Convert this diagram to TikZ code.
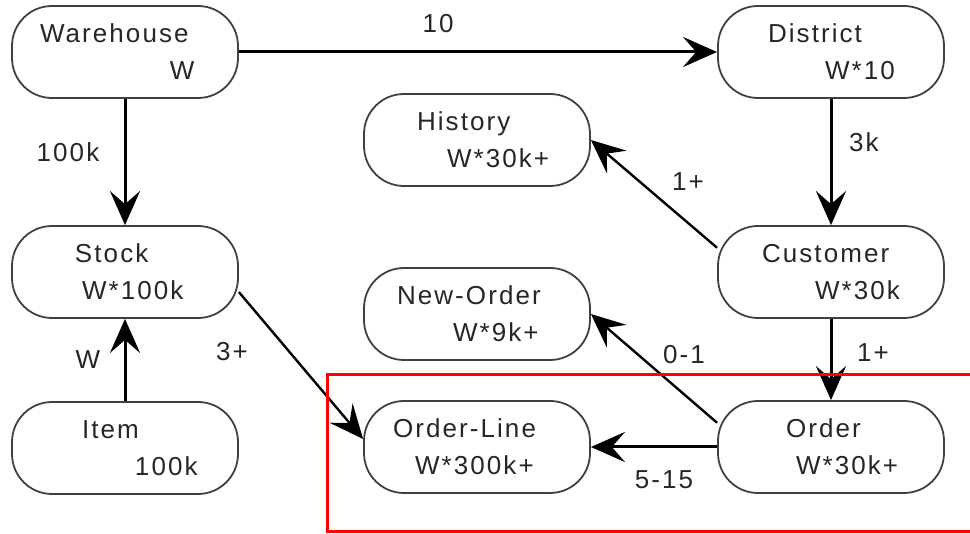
\documentclass[tikz,border=0pt]{standalone}
\usepackage{fontspec}
\setmainfont{Liberation Sans}[LetterSpace=8]
\usetikzlibrary{arrows.meta,positioning}

\begin{document}
\begin{tikzpicture}[
  x=1pt, y=-1pt,
  font=\fontsize{26}{37}\selectfont,
  entity/.style={draw=black!75, line width=1.8pt, rectangle, rounded corners=40pt, minimum height=92pt, minimum width=226pt, text width=200pt, inner xsep=0pt, align=left, text=black!85},
  rel/.style={-{Stealth[length=34pt,width=30pt,inset=13pt]}, line width=3pt},
  card/.style={text=black!85, inner sep=0pt}
]
  \useasboundingbox (0,0) rectangle (970,534);

  \node[entity] (warehouse) at (125,52) {\hspace*{15pt}Warehouse\\\hspace*{145pt}W};
  \node[entity] (district) at (831,52) {\hspace*{37pt}District\\\hspace*{94pt}W*10};
  \node[entity] (history) at (477,140) {\hspace*{40pt}History\\\hspace*{70pt}W*30k+};
  \node[entity] (stock) at (125,272) {\hspace*{50pt}Stock\\\hspace*{57pt}W*100k};
  \node[entity] (customer) at (831,272) {\hspace*{31pt}Customer\\\hspace*{84pt}W*30k};
  \node[entity] (neworder) at (477,314) {\hspace*{20pt}New-Order\\\hspace*{76pt}W*9k+};
  \node[entity] (item) at (125,448) {\hspace*{57pt}Item\\\hspace*{110pt}100k};
  \node[entity] (orderline) at (477,447) {\hspace*{16pt}Order-Line\\\hspace*{38pt}W*300k+};
  \node[entity] (order) at (831,447) {\hspace*{55pt}Order\\\hspace*{65pt}W*30k+};

  % cardinalities
  \node[card] (c10) at (438,24) {10};
  \node[card] (c100k) at (68,152) {100k};
  \node[card] (c3k) at (864,142) {3k};
  \node[card] (chist) at (688,182) {1+};
  \node[card] (cw) at (88,360) {W};
  \node[card] (c3) at (232,352) {3+};
  \node[card] (cnew) at (684,355) {0-1};
  \node[card] (cord) at (873,353) {1+};
  \node[card] (cline) at (664,480) {5-15};

  \draw[rel] (warehouse.east) -- (district.west);
  \draw[rel] (warehouse.south) -- (stock.north);
  \draw[rel] (district.south) -- (customer.north);
  \draw[rel, line width=2.4pt] (customer.168) -- (history.east);
  \draw[rel] (item.north) -- (stock.south);
  \draw[rel, line width=2.4pt] (stock.-10) -- (orderline.176);
  \draw[rel] (customer.south) -- (order.north);
  \draw[rel, line width=2.4pt] (order.168) -- (neworder.east);
  \draw[rel] (order.west) -- (orderline.east);

  \draw[red, line width=3pt] (327,375) rectangle (990,532);
\end{tikzpicture}
\end{document}
